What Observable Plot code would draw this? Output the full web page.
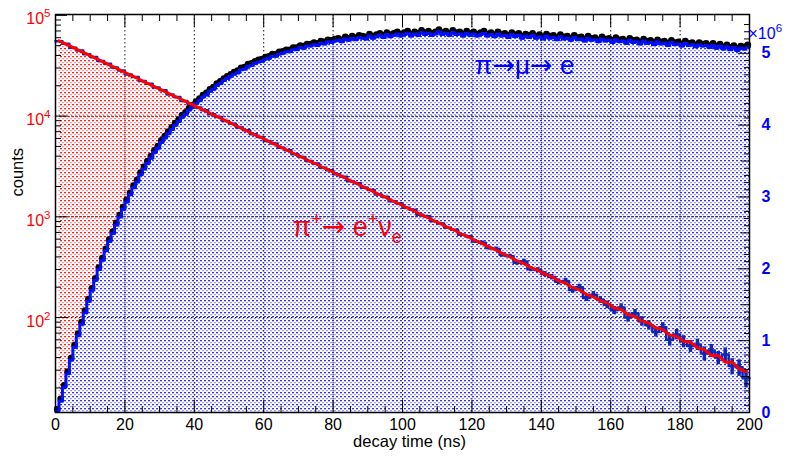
<!DOCTYPE html>
<html><head><meta charset="utf-8">
<script src="https://cdn.jsdelivr.net/npm/d3@7"></script>
<script src="https://cdn.jsdelivr.net/npm/@observablehq/plot@0.6"></script>
<style>
body{margin:0;background:#fff;}
#chart{font-family:"Liberation Sans",Arial,Helvetica,sans-serif;}
</style>
</head><body><div id="chart"></div>
<script>
// pi -> mu -> e, counts per 1 ns bin, in units of 10^6 (right axis)
const muValues = [
0.02,0.16,0.35,0.54,0.73,0.91,1.07,1.23,1.39,1.55,
1.70,1.84,1.99,2.12,2.25,2.38,2.49,2.61,2.72,2.83,
2.93,3.03,3.13,3.21,3.31,3.39,3.47,3.54,3.62,3.68,
3.76,3.82,3.88,3.94,4.00,4.05,4.11,4.15,4.21,4.25,
4.30,4.34,4.39,4.42,4.47,4.50,4.55,4.58,4.62,4.65,
4.68,4.71,4.73,4.77,4.78,4.82,4.83,4.86,4.88,4.89,
4.92,4.93,4.96,4.96,4.99,5.00,5.02,5.02,5.05,5.05,
5.08,5.07,5.10,5.10,5.12,5.11,5.14,5.13,5.16,5.15,
5.17,5.18,5.16,5.20,5.18,5.21,5.19,5.22,5.21,5.20,
5.24,5.21,5.23,5.25,5.22,5.26,5.23,5.25,5.27,5.24,
5.26,5.28,5.24,5.27,5.25,5.29,5.26,5.28,5.25,5.27,
5.30,5.26,5.28,5.25,5.29,5.26,5.27,5.24,5.28,5.25,
5.27,5.24,5.26,5.28,5.24,5.26,5.23,5.27,5.24,5.25,
5.22,5.26,5.23,5.25,5.21,5.24,5.22,5.25,5.21,5.23,
5.20,5.24,5.21,5.22,5.19,5.23,5.20,5.21,5.18,5.22,
5.19,5.20,5.17,5.21,5.18,5.19,5.16,5.20,5.17,5.18,
5.15,5.19,5.16,5.17,5.14,5.18,5.15,5.16,5.13,5.17,
5.14,5.15,5.12,5.16,5.13,5.14,5.11,5.15,5.12,5.13,
5.10,5.14,5.11,5.12,5.09,5.12,5.10,5.11,5.08,5.11,
5.07,5.10,5.06,5.09,5.05,5.08,5.04,5.07,5.06,5.09];

// pi+ -> e+ nu_e, counts per 2 ns bin (left, log axis): simulation (red) and data (dark blue)
const piEnuMC = [
56000,51800,48200,44500,41400,38200,35500,32800,30500,28200,
26100,24300,22400,20800,19300,17900,16550,15380,14210,13200,
12200,11350,10480,9740,9000,8360,7720,7180,6630,6170,
5700,5300,4890,4550,4200,3910,3600,3360,3090,2885,
2660,2480,2280,2130,1960,1830,1680,1570,1445,1350,
1240,1160,1065,995,915,855,785,735,672,632,
579,541,500,466,428,399,365,343,313,295,
270,255,231,219,199,188,170,160,147,139,
125,120,107,102,92,88,79,76,67,65,
58,57,50,48,42,42,36,36,31,29];
const piEnuData = [
55200,52300,47800,44900,41000,38500,35200,33100,30300,28400,
25900,24400,22300,20900,19200,18000,16400,15450,14150,13280,
12150,11400,10420,9800,8950,8400,7690,7230,6600,6200,
5660,5330,4860,4580,4180,3930,3580,3380,3070,2900,
2640,2500,2260,2150,1940,1845,1665,1585,1430,1362,
1230,1175,1050,1010,905,860,778,742,662,640,
570,552,490,478,418,405,350,360,302,296,
270,252,226,230,188,200,156,168,150,134,
118,126,100,110,92,84,72,80,60,68,
58,52,54,44,47,40,43,33,32,25];
// statistical errors of the data, bins 60..99 (t = 120..200 ns)
const piEnuErr = [
24,23,22,22,20,20,19,19,17,17,
16,16,15,15,14,14,12,13,12,12,
11,11,10,10,10,9,8,9,8,8,
8,7,7,7,7,6,7,6,6,5];

const xMajor = [0,20,40,60,80,100,120,140,160,180,200];
const xMinor = d3.range(0, 201, 5).filter(d => d % 20 !== 0);
const xGrid = [20,40,60,80,100,120,140,160,180];
const leftMajor = [100,1000,10000,100000];
const leftMinor = [20,30,40,50,60,70,80,90,200,300,400,500,600,700,800,900,
  2000,3000,4000,5000,6000,7000,8000,9000,20000,30000,40000,50000,60000,70000,80000,90000];
const yGrid = [100,1000,10000];
const rightMajor = [0,1,2,3,4,5];
const rightMid = [0.5,1.5,2.5,3.5,4.5];
const rightMinor = d3.range(1, 56).map(i => i / 10).filter(d => Math.abs(d * 2 - Math.round(d * 2)) > 1e-6);

// axis ranges: the y scale is linear in log10(counts)
const ymin = 11.4, ymax = 102000, vmax = 5.54;
const lmin = Math.log10(ymin), lmax = Math.log10(ymax);
const lg = v => Math.log10(v);
// right (linear, ×10^6) axis value -> position on the shared y scale
const toLeft = v => lmin + v / vmax * (lmax - lmin);
const fromLeft = y => (y - lmin) / (lmax - lmin) * vmax;

const muTable = muValues.map((v, i) => ({t: i, v}));
muTable.push({t: 200, v: muValues[muValues.length - 1]});
const muDots = muValues.map((v, i) => ({t: i + 0.5, v}));
const mcTable = piEnuMC.map((v, i) => ({t: 2 * i + 1, v}));
const dataTable = piEnuData.map((v, i) => ({t: 2 * i, v}));
dataTable.push({t: 200, v: piEnuData[piEnuData.length - 1]});
const errTable = piEnuErr.map((e, k) => ({t: 2 * (k + 60) + 1, v: piEnuData[k + 60], e}));

const darkBlue = "#1226b4";

const plot = Plot.plot({
  width: 789, height: 459,
  marginLeft: 55, marginRight: 40, marginTop: 14, marginBottom: 47,
  style: {fontFamily: "Liberation Sans, Arial, sans-serif", background: "white"},
  x: {domain: [0, 200]},
  y: {domain: [lmin, lmax]},
  marks: [
    Plot.areaY(mcTable, {x: "t", y1: lmin, y2: d => lg(d.v), fill: "url(#redPat)"}),
    Plot.areaY(muTable, {x: "t", y1: lmin, y2: d => toLeft(d.v), curve: "step-after", fill: "url(#bluePat)"}),
    Plot.gridX(xGrid, {stroke: "black", strokeOpacity: 0.9, strokeDasharray: "1.5,2.5"}),
    Plot.gridY(yGrid.map(lg), {stroke: "black", strokeOpacity: 0.9, strokeDasharray: "1.5,2.5"}),
    Plot.dot(muDots, {x: "t", y: d => toLeft(d.v), r: 3.4, fill: "black", dy: -2}),
    Plot.lineY(muTable, {x: "t", y: d => toLeft(d.v), curve: "step-after", stroke: "#0010ff", strokeWidth: 3}),
    Plot.ruleX(errTable, {x: "t", y1: d => lg(d.v - d.e), y2: d => lg(d.v + d.e), stroke: darkBlue, strokeWidth: 3.5}),
    Plot.lineY(dataTable, {x: "t", y: d => lg(d.v), curve: "step-after", stroke: darkBlue, strokeWidth: 2.5}),
    Plot.lineY(mcTable, {x: "t", y: d => lg(d.v), stroke: "#ff0000", strokeWidth: 3}),
    Plot.frame({stroke: "black", strokeWidth: 1.5}),
    // x axis (bottom and top, inward ticks)
    Plot.axisX(xMajor, {anchor: "bottom", tickSize: -12, fill: "none", label: null}),
    Plot.axisX(xMinor, {anchor: "bottom", tickSize: -6, fill: "none", label: null}),
    Plot.axisX(xMajor, {anchor: "top", tickSize: -12, fill: "none", label: null}),
    Plot.axisX(xMinor, {anchor: "top", tickSize: -6, fill: "none", label: null}),
    Plot.axisX(xMajor, {anchor: "bottom", tickSize: 0, tickPadding: 6, fontSize: 16, fill: "black", label: null}),
    // left log axis
    Plot.axisY(leftMajor.map(lg), {anchor: "left", tickSize: -12, fill: "none", label: null}),
    Plot.axisY(leftMinor.map(lg), {anchor: "left", tickSize: -6, fill: "none", label: null}),
    Plot.axisY(leftMajor.map(lg), {anchor: "left", tickSize: 0, tickPadding: 5, dy: 4, fontSize: 16, fill: "#ff0000",
      tickFormat: d => "10^" + Math.round(d), label: null}),
    // right linear axis (×10^6)
    Plot.axisY(rightMajor.map(toLeft), {anchor: "right", tickSize: -12, fill: "none", label: null}),
    Plot.axisY(rightMid.map(toLeft), {anchor: "right", tickSize: -9, fill: "none", label: null}),
    Plot.axisY(rightMinor.map(toLeft), {anchor: "right", tickSize: -6, fill: "none", label: null}),
    Plot.axisY(rightMajor.map(toLeft), {anchor: "right", tickSize: 0, tickPadding: 12, fontSize: 16, fontWeight: "bold",
      fill: "#0000ff", tickFormat: d => String(Math.round(fromLeft(d))), label: null}),
    // titles and annotations
    Plot.text(["decay time (ns)"], {frameAnchor: "bottom", dx: 7, dy: 34, fontSize: 16.5, fill: "black"}),
    Plot.text(["counts"], {frameAnchor: "left", rotate: -90, dx: -38, dy: -17, fontSize: 16.5, fill: "black"}),
    Plot.text(["x10^6"], {frameAnchor: "top-right", dx: -1, dy: 24, textAnchor: "start", lineAnchor: "bottom",
      fontSize: 16, fill: "#0000ff"}),
    Plot.text(["π→μ→ e"], {frameAnchor: "top-left", dx: 419, dy: 59, textAnchor: "start", lineAnchor: "bottom",
      fontSize: 26, fill: "#0000ff"}),
    Plot.text(["pi+ e+ nu e"], {frameAnchor: "top-left", dx: 237, dy: 221, textAnchor: "start", lineAnchor: "bottom",
      fontSize: 27, fill: "#ff0000"})
  ]
});

const svg = d3.select(plot);
svg.insert("defs", ":first-child").html(
  `<pattern id="bluePat" width="4" height="4" patternUnits="userSpaceOnUse">
     <rect width="4" height="4" fill="#ffffff"/>
     <rect x="0" y="0" width="2" height="1.3" fill="#3030f4"/>
     <rect x="2" y="2" width="2" height="1.3" fill="#a0a0fa"/>
   </pattern>
   <pattern id="redPat" width="4" height="4" patternUnits="userSpaceOnUse">
     <rect x="0" y="0" width="2" height="1.3" fill="#ff2020"/>
     <rect x="2" y="2" width="2" height="1.3" fill="#ffa0a0"/>
   </pattern>`);
const arrow = `<tspan font-family="DejaVu Sans" font-size="27">→</tspan>`;
svg.selectAll("text").each(function() {
  const t = this.textContent;
  const m = /^10\^(\d)$/.exec(t);
  if (m) this.innerHTML = `10<tspan dy="-7" font-size="11.5">${m[1]}</tspan>`;
  else if (t === "x10^6") this.innerHTML = `×10<tspan dy="-7" font-size="11.5">6</tspan>`;
  else if (t === "π→μ→ e") this.innerHTML = `π${arrow}μ${arrow} e`;
  else if (t === "pi+ e+ nu e") this.innerHTML =
    `π<tspan dy="-11" font-size="18">+</tspan><tspan dy="11" font-family="DejaVu Sans" font-size="28">→</tspan><tspan> e</tspan><tspan dy="-11" font-size="18">+</tspan><tspan dy="11">ν</tspan><tspan dy="7" font-size="18">e</tspan>`;
});
document.getElementById("chart").appendChild(plot);
</script>
</body></html>
